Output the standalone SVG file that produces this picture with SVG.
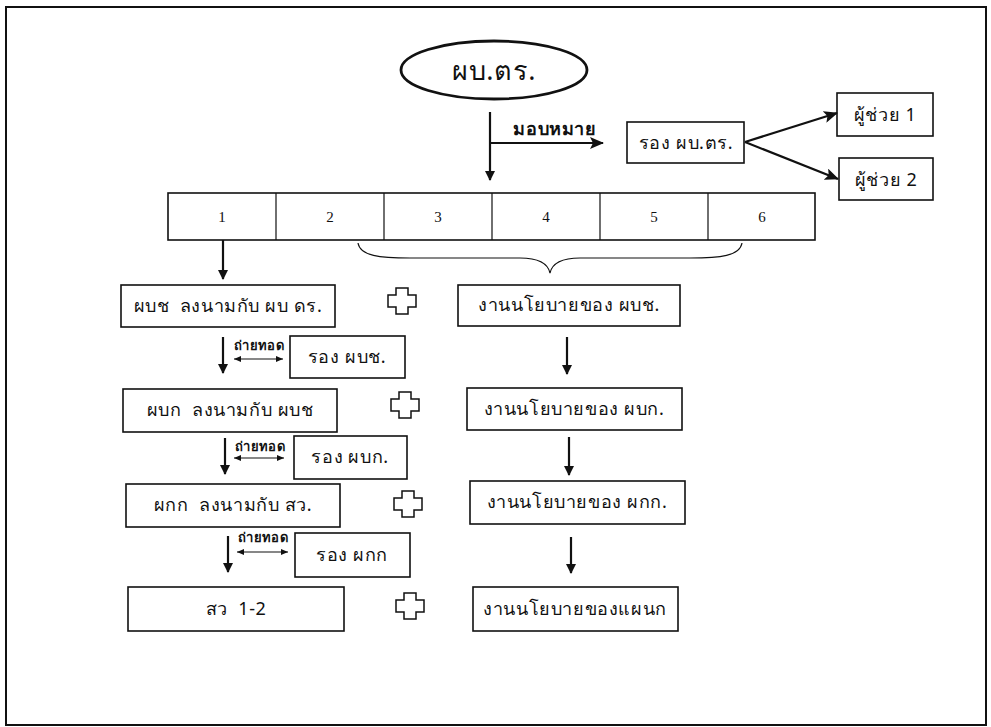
<svg xmlns="http://www.w3.org/2000/svg" width="991" height="727" viewBox="0 0 991 727">
<style>
.box{fill:#fff;stroke:#111;stroke-width:1.6}
.t{font-family:"Noto Sans","DejaVu Sans",sans-serif;fill:#111;text-anchor:middle;dominant-baseline:central;font-size:18px;letter-spacing:0.6px}
.n{font-family:"Liberation Serif",serif;fill:#111;text-anchor:middle;dominant-baseline:central;font-size:15px}
.ln{stroke:#111;stroke-width:2.2;fill:none}
.thin{stroke:#111;stroke-width:1.2;fill:none}
.cross{fill:#fff;stroke:#111;stroke-width:1.5}
.sm{font-size:13px;font-weight:bold;letter-spacing:0.3px}
</style>
<defs>
<marker id="ah" markerWidth="10" markerHeight="10" refX="9" refY="5" orient="auto" markerUnits="userSpaceOnUse" viewBox="0 0 10 10">
<path d="M0,0 L10,5 L0,10 z" fill="#111"/>
</marker>
<marker id="ahs" markerWidth="7" markerHeight="6" refX="7" refY="3" orient="auto-start-reverse" markerUnits="userSpaceOnUse" viewBox="0 0 7 6">
<path d="M0,0 L7,3 L0,6 z" fill="#111"/>
</marker>
<marker id="ahl" markerWidth="14" markerHeight="12" refX="13" refY="6" orient="auto" markerUnits="userSpaceOnUse" viewBox="0 0 14 12">
<path d="M0,0 L14,6 L0,12 L3,6 z" fill="#111"/>
</marker>
<polygon id="plus" points="-6,-13 6,-13 6,-6 14,-6 14,6 6,6 6,13 -6,13 -6,6 -14,6 -14,-6 -6,-6"/>
</defs>

<rect x="6" y="7" width="980" height="718" fill="#fff" stroke="#111" stroke-width="2"/>

<g id="top">
<ellipse cx="494" cy="70" rx="93" ry="29" fill="#fff" stroke="#111" stroke-width="2.8"/>
<text class="t" x="494" y="69" style="font-size:27px">ผบ.ตร.</text>
</g>

<g id="rong-pbtr">
<rect class="box" x="627" y="122" width="117" height="41"/>
<text class="t" x="686" y="142">รอง ผบ.ตร.</text>
</g>
<g id="assist1">
<rect class="box" x="837" y="93" width="96" height="43"/>
<text class="t" x="885" y="114">ผู้ช่วย 1</text>
</g>
<g id="assist2">
<rect class="box" x="839" y="158" width="94" height="42"/>
<text class="t" x="886" y="179">ผู้ช่วย 2</text>
</g>

<g id="bar">
<rect class="box" x="168" y="193" width="647" height="47" stroke-width="2"/>
<path class="thin" d="M276,193 V240 M384,193 V240 M492,193 V240 M600,193 V240 M708,193 V240"/>
<text class="n" x="222" y="217">1</text>
<text class="n" x="330" y="217">2</text>
<text class="n" x="438" y="217">3</text>
<text class="n" x="546" y="217">4</text>
<text class="n" x="654" y="217">5</text>
<text class="n" x="762" y="217">6</text>
</g>

<g id="left1">
<rect class="box" x="121" y="285" width="214" height="42"/>
<text class="t" x="228" y="305">ผบช&#160; ลงนามกับ ผบ ดร.</text>
</g>
<g id="rong1">
<rect class="box" x="290" y="336" width="115" height="42"/>
<text class="t" x="347" y="356">รอง ผบช.</text>
</g>
<g id="left2">
<rect class="box" x="123" y="389" width="214" height="43"/>
<text class="t" x="230" y="409">ผบก&#160; ลงนามกับ ผบช</text>
</g>
<g id="rong2">
<rect class="box" x="294" y="436" width="113" height="43"/>
<text class="t" x="350" y="456">รอง ผบก.</text>
</g>
<g id="left3">
<rect class="box" x="126" y="484" width="214" height="43"/>
<text class="t" x="233" y="504">ผกก&#160; ลงนามกับ สว.</text>
</g>
<g id="rong3">
<rect class="box" x="295" y="533" width="115" height="44"/>
<text class="t" x="352" y="554">รอง ผกก</text>
</g>
<g id="left4">
<rect class="box" x="128" y="587" width="216" height="44"/>
<text class="t" x="236" y="608">สว&#160; 1-2</text>
</g>

<g id="right1">
<rect class="box" x="458" y="285" width="222" height="41"/>
<text class="t" x="569" y="304">งานนโยบายของ ผบช.</text>
</g>
<g id="right2">
<rect class="box" x="467" y="388" width="215" height="42"/>
<text class="t" x="574" y="408">งานนโยบายของ ผบก.</text>
</g>
<g id="right3">
<rect class="box" x="470" y="481" width="215" height="43"/>
<text class="t" x="577" y="501">งานนโยบายของ ผกก.</text>
</g>
<g id="right4">
<rect class="box" x="473" y="587" width="205" height="44"/>
<text class="t" x="575" y="608">งานนโยบายของแผนก</text>
</g>

<g id="plus-signs">
<use href="#plus" class="cross" x="402" y="301"/>
<use href="#plus" class="cross" x="405" y="405"/>
<use href="#plus" class="cross" x="408" y="504"/>
<use href="#plus" class="cross" x="410" y="606"/>
</g>

<g id="connectors">
<line class="ln" x1="490" y1="112" x2="490" y2="180" marker-end="url(#ah)"/>
<line class="ln" x1="490" y1="143" x2="603" y2="143" marker-end="url(#ahl)"/>
<text class="t" x="555" y="128" style="font-size:18px;font-weight:bold">มอบหมาย</text>
<line class="ln" x1="745" y1="142" x2="837" y2="113" marker-end="url(#ahl)"/>
<line class="ln" x1="745" y1="142" x2="838" y2="179" marker-end="url(#ahl)"/>
<line class="ln" x1="223" y1="240" x2="223" y2="279" marker-end="url(#ah)"/>
<path class="thin" stroke-width="1.4" d="M358,243 C360,256 380,258 410,258 L520,258 C540,258 548,264 550,273 C552,264 560,258 580,258 L690,258 C720,258 740,256 742,243"/>

<line class="ln" x1="223" y1="337" x2="223" y2="373" marker-end="url(#ah)"/>
<text class="t sm" x="259" y="345">ถ่ายทอด</text>
<line class="thin" x1="234" y1="359" x2="283" y2="359" marker-start="url(#ahs)" marker-end="url(#ahs)"/>

<line class="ln" x1="225" y1="438" x2="225" y2="474" marker-end="url(#ah)"/>
<text class="t sm" x="260" y="446">ถ่ายทอด</text>
<line class="thin" x1="234" y1="458" x2="284" y2="458" marker-start="url(#ahs)" marker-end="url(#ahs)"/>

<line class="ln" x1="228" y1="536" x2="228" y2="572" marker-end="url(#ah)"/>
<text class="t sm" x="263" y="537">ถ่ายทอด</text>
<line class="thin" x1="237" y1="552" x2="288" y2="552" marker-start="url(#ahs)" marker-end="url(#ahs)"/>

<line class="ln" x1="567" y1="337" x2="567" y2="374" marker-end="url(#ah)"/>
<line class="ln" x1="569" y1="437" x2="569" y2="475" marker-end="url(#ah)"/>
<line class="ln" x1="571" y1="537" x2="571" y2="573" marker-end="url(#ah)"/>
</g>
</svg>
